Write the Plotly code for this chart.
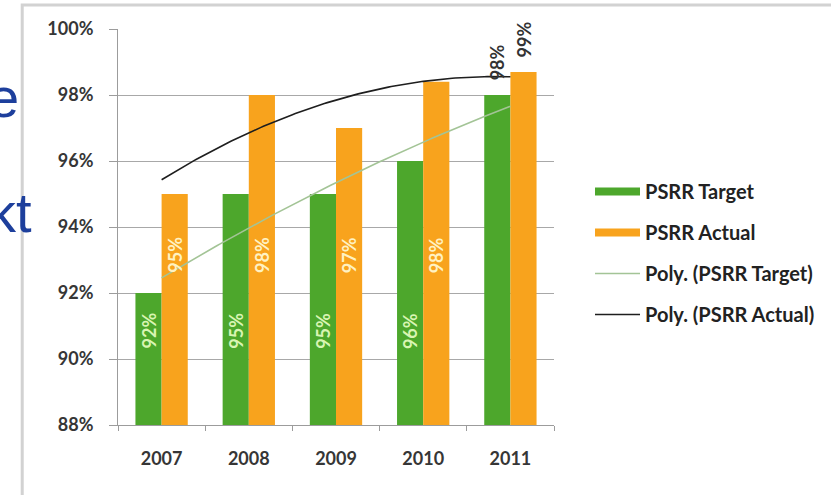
import numpy as np
import plotly.graph_objects as go

# ---- data ----
years = [2007, 2008, 2009, 2010, 2011]
target = [92, 95, 95, 96, 98]
actual = [95, 98, 97, 98.4, 98.7]
target_labels = ["92%", "95%", "95%", "96%", "98%"]
actual_labels = ["95%", "98%", "97%", "98%", "99%"]
label_inside = [True, True, True, True, False]
y_ticks = [88, 90, 92, 94, 96, 98, 100]
y_tick_text = ["88%", "90%", "92%", "94%", "96%", "98%", "100%"]

# ---- style ----
GREEN = "#4da72c"
ORANGE = "#f8a31d"
TREND_T = "#a3c496"
TREND_A = "#1e1e1e"
AXIS = "#9c9c9c"
GRID = "#a8a8a8"
TXT = "#363636"
FONT = "Lato"
W, H = 831, 495
L, R, T, B = 118, 276, 29, 70
PW, PH = W - L - R, H - T - B
BARGAP = 0.4
# label placement levels (axis units)
IN_LEVEL_T, IN_LEVEL_A = 90.85, 93.15
OUT_OFFSET = 1.0


def px_x(p):
    return (p - L) / PW


def px_y(p):
    return (H - B - p) / PH


fig = go.Figure()
fig.add_trace(go.Bar(x=years, y=target, marker=dict(color=GREEN, line=dict(width=0)),
                     name="PSRR Target", showlegend=False, hoverinfo="skip"))
fig.add_trace(go.Bar(x=years, y=actual, marker=dict(color=ORANGE, line=dict(width=0)),
                     name="PSRR Actual", showlegend=False, hoverinfo="skip"))

# polynomial (order 2) trendlines, as in the spreadsheet
t = np.array(years, dtype=float) - years[0]
xs = np.linspace(0, t[-1], 121)
for vals, col, nm in [(target, TREND_T, "Poly. (PSRR Target)"),
                      (actual, TREND_A, "Poly. (PSRR Actual)")]:
    c = np.polyfit(t, vals, 2)
    fig.add_trace(go.Scatter(x=xs + years[0], y=np.polyval(c, xs), mode="lines",
                             line=dict(color=col, width=1.6), name=nm,
                             showlegend=False, hoverinfo="skip"))

# legend entries (wide swatches)
for i, (nm, col, wd) in enumerate([("PSRR Target", GREEN, 8), ("PSRR Actual", ORANGE, 8),
                                   ("Poly. (PSRR Target)", TREND_T, 1.6),
                                   ("Poly. (PSRR Actual)", TREND_A, 1.6)]):
    fig.add_trace(go.Scatter(x=[None], y=[None], mode="lines", name=nm,
                             line=dict(color=col, width=wd), legendgroup=f"g{i}"))

# data labels
half = (1 - BARGAP) / 4
ann = []
for yr, v, lab, ins in zip(years, target, target_labels, label_inside):
    ann.append(dict(x=yr - half, y=IN_LEVEL_T if ins else v + OUT_OFFSET, text=lab,
                    textangle=-90, showarrow=False, xref="x", yref="y",
                    font=dict(family=FONT, size=18, weight="bold",
                              color="#d9f5b3" if ins else "#333333")))
for yr, v, lab, ins in zip(years, actual, actual_labels, label_inside):
    ann.append(dict(x=yr + half, y=IN_LEVEL_A if ins else v + OUT_OFFSET, text=lab,
                    textangle=-90, showarrow=False, xref="x", yref="y",
                    font=dict(family=FONT, size=18, weight="bold",
                              color="#fff2c2" if ins else "#333333")))

# slide text peeking out behind the chart
ann.append(dict(x=px_x(21), y=px_y(97), xref="paper", yref="paper", text="e",
                xanchor="right", yanchor="middle", showarrow=False,
                font=dict(family="Liberation Sans", size=56, color="#1d3f9c")))
ann.append(dict(x=px_x(34), y=px_y(212), xref="paper", yref="paper", text="kt",
                xanchor="right", yanchor="middle", showarrow=False,
                font=dict(family="Liberation Sans", size=56, color="#1d3f9c")))

fig.update_layout(
    width=W, height=H,
    margin=dict(l=L, r=R, t=T, b=B),
    paper_bgcolor="white", plot_bgcolor="white",
    barmode="group", bargap=BARGAP, bargroupgap=0,
    font=dict(family=FONT, color=TXT),
    annotations=ann,
    shapes=[dict(type="rect", xref="paper", yref="paper",
                 x0=px_x(22), x1=px_x(845), y0=px_y(500), y1=px_y(5),
                 line=dict(color="#d2d2d2", width=3), layer="below")],
    legend=dict(x=px_x(590), y=px_y(172), xanchor="left", yanchor="top",
                font=dict(family=FONT, size=20, weight="bold", color="#222222"),
                tracegroupgap=12, bgcolor="rgba(0,0,0,0)", itemwidth=45),
    xaxis=dict(range=[years[0] - 0.5, years[-1] + 0.5], tickvals=years,
               ticktext=[str(y) for y in years], ticks="", showgrid=False,
               showline=True, linecolor=AXIS, linewidth=1, zeroline=False,
               tickfont=dict(family=FONT, size=18, weight="bold", color=TXT),
               ticklabelstandoff=17,
               minor=dict(tickvals=[y - 0.5 for y in years] + [years[-1] + 0.5],
                          ticks="outside", ticklen=5, tickcolor=AXIS, showgrid=False)),
    yaxis=dict(range=[88, 100], tickvals=y_ticks, ticktext=y_tick_text,
               ticks="outside", ticklen=8, tickcolor=AXIS,
               showline=True, linecolor=AXIS, linewidth=1,
               showgrid=True, gridcolor=GRID, gridwidth=1, zeroline=False,
               tickfont=dict(family=FONT, size=18, weight="bold", color=TXT),
               ticklabelstandoff=12),
)

fig.write_html("out.html", config={"displayModeBar": False},
               post_script="document.body.style.margin='0';")
